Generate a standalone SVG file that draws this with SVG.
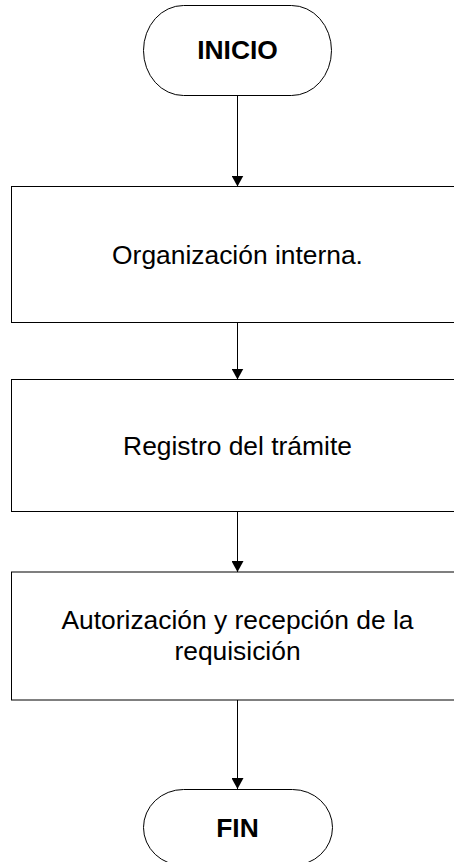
<svg xmlns="http://www.w3.org/2000/svg" width="454" height="862" viewBox="0 0 454 862">
<style>
.shape{fill:#fff;stroke:#000;stroke-width:1}
.t{font-family:"Liberation Sans",Arial,sans-serif;font-size:26.4px;fill:#000;text-anchor:middle}
.b{font-weight:bold}
.c{stroke:#000;stroke-width:1;fill:none}
</style>
<defs>
<marker id="ah" markerWidth="12" markerHeight="12" refX="11" refY="6" orient="auto" markerUnits="userSpaceOnUse">
<path d="M0,0 L11,6 L0,12 Z" fill="#000"/>
</marker>
</defs>
<rect width="454" height="862" fill="#fff"/>
<g id="connectors">
<line class="c" x1="237.5" y1="95.5" x2="237.5" y2="186.5" marker-end="url(#ah)"/>
<line class="c" x1="237.5" y1="322.5" x2="237.5" y2="379.5" marker-end="url(#ah)"/>
<line class="c" x1="237.5" y1="511.5" x2="237.5" y2="572" marker-end="url(#ah)"/>
<line class="c" x1="237.5" y1="700" x2="237.5" y2="789" marker-end="url(#ah)"/>
</g>
<g id="inicio">
<rect class="shape" x="143.5" y="5.5" width="188" height="90" rx="40" ry="45"/>
<text class="t b" x="237.5" y="59.3">INICIO</text>
</g>
<g id="organizacion">
<rect class="shape" x="11.5" y="186.5" width="452" height="136"/>
<text class="t" x="237.5" y="264">Organización interna.</text>
</g>
<g id="registro">
<rect class="shape" x="11.5" y="379.5" width="452" height="132"/>
<text class="t" x="237.5" y="454.5">Registro del trámite</text>
</g>
<g id="autorizacion">
<rect class="shape" x="11.5" y="572" width="452" height="128"/>
<text class="t" x="237.5" y="628.5">Autorización y recepción de la</text>
<text class="t" x="237.5" y="660">requisición</text>
</g>
<g id="fin">
<rect class="shape" x="143.5" y="789.5" width="189" height="76" rx="40" ry="38"/>
<text class="t b" x="237.5" y="836.5">FIN</text>
</g>
</svg>
